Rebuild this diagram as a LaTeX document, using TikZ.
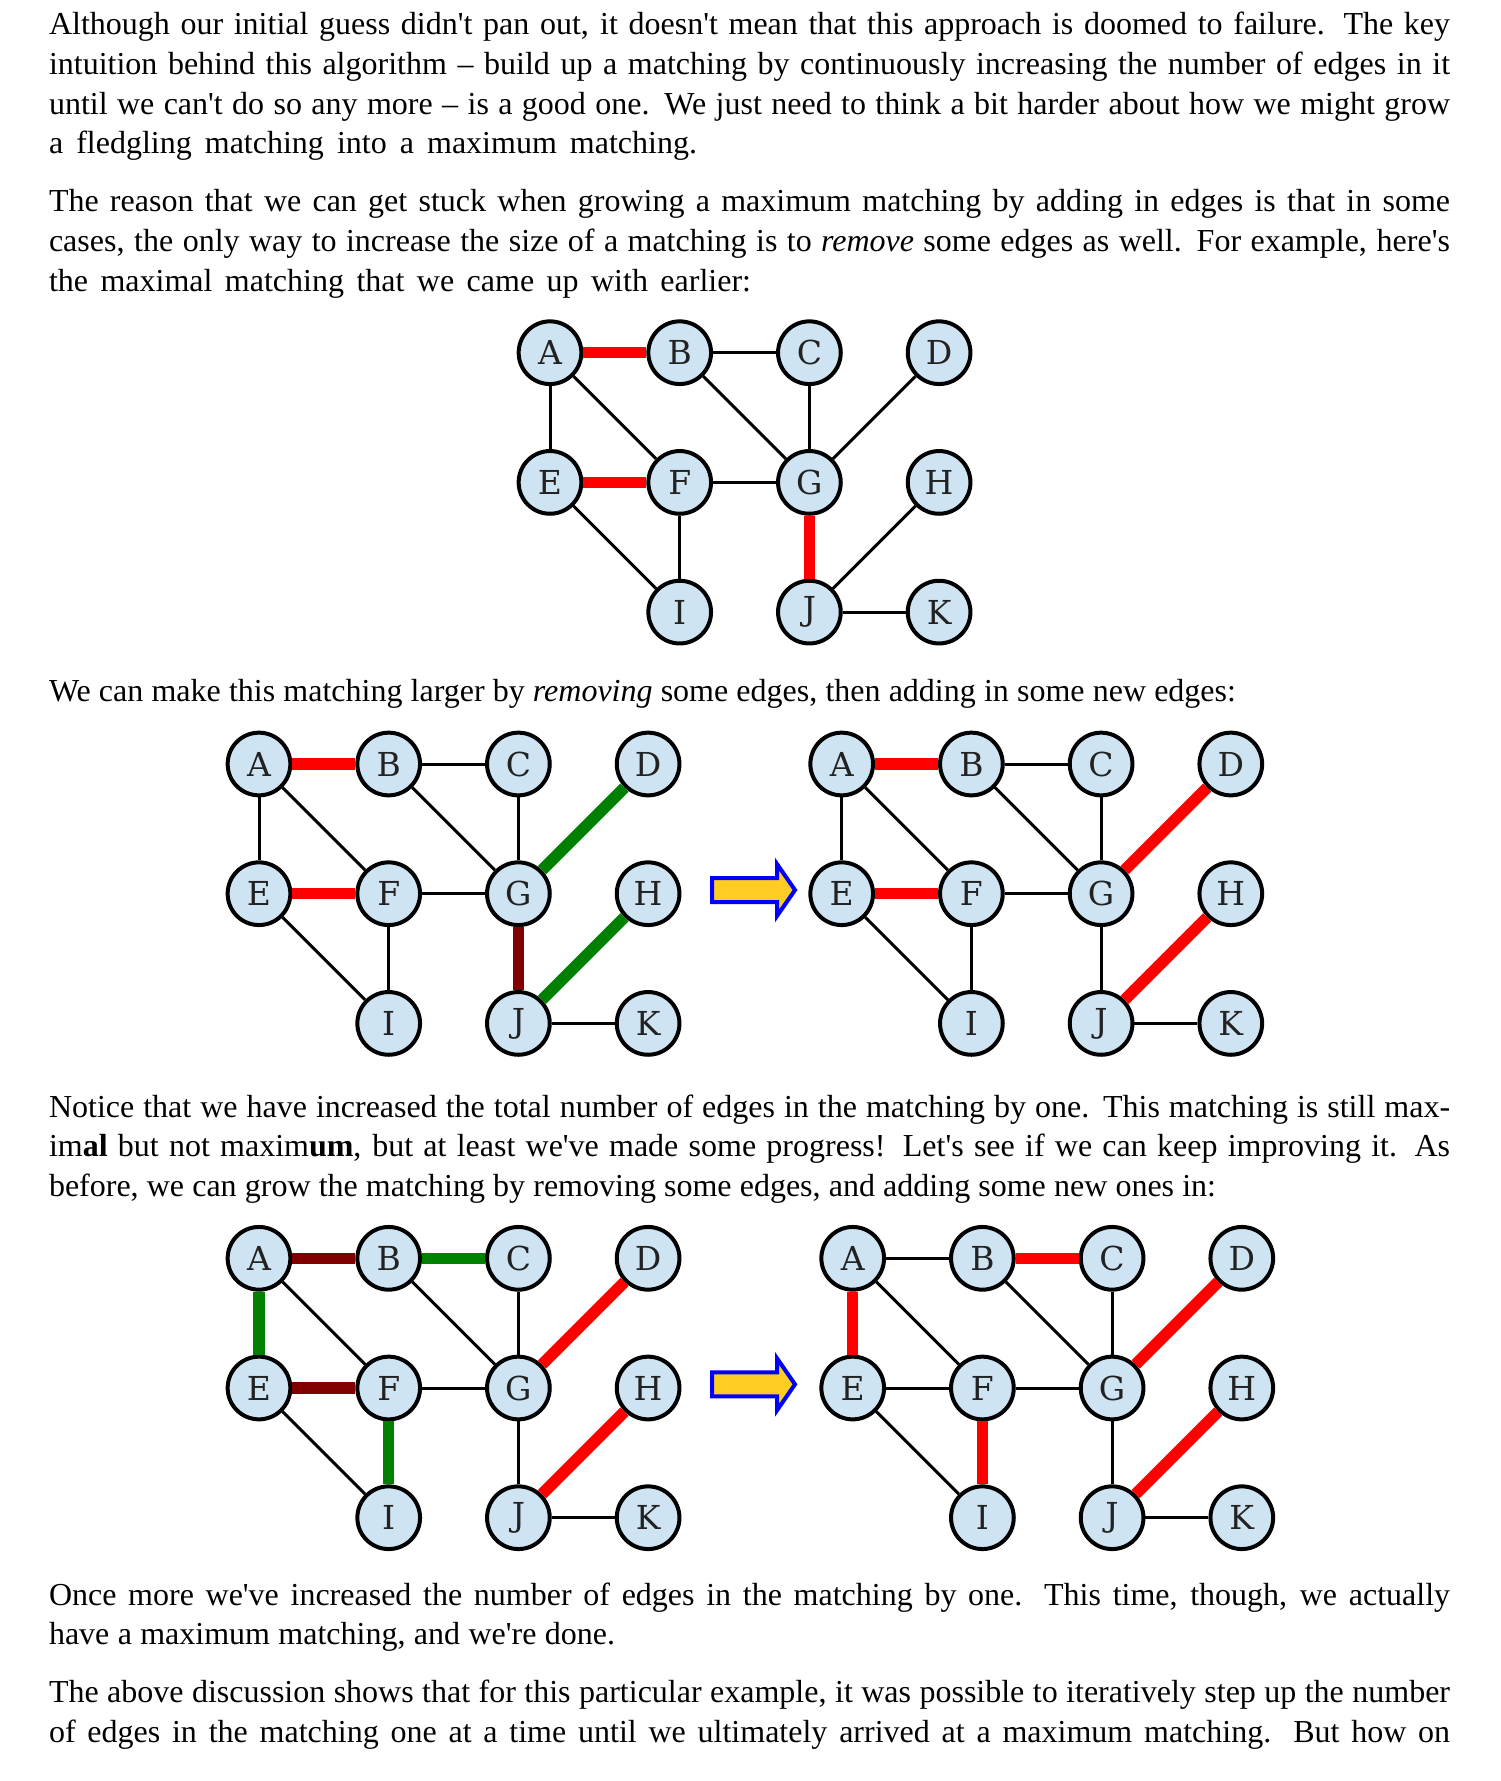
\documentclass[tikz,border=0pt]{standalone}
\usepackage{fontspec}
\setmainfont{Liberation Serif}[Ligatures=TeXOff]
\newfontfamily\labelfont{DejaVu Serif}
\definecolor{nodeblue}{RGB}{207,228,242}
\definecolor{labelgray}{RGB}{34,34,34}
\definecolor{matchred}{RGB}{255,0,0}
\definecolor{addgreen}{RGB}{0,128,0}
\definecolor{dropred}{RGB}{128,0,0}
\definecolor{arrowgold}{RGB}{255,204,34}
\definecolor{arrowblue}{RGB}{0,0,255}
\tikzset{
  vertex/.style={circle, draw=black, line width=4pt, fill=nodeblue,
    minimum size=62.7pt, inner sep=0pt, text=labelgray,
    font=\labelfont\fontsize{33}{33}\selectfont},
  plain edge/.style={draw=black, line width=3pt},
  red edge/.style={draw=matchred, line width=11.5pt},
  green edge/.style={draw=addgreen, line width=11.5pt},
  maroon edge/.style={draw=dropred, line width=11.5pt},
  eAB/.style={plain edge}, eBC/.style={plain edge}, eAE/.style={plain edge},
  eAF/.style={plain edge}, eBG/.style={plain edge}, eCG/.style={plain edge},
  eDG/.style={plain edge}, eEF/.style={plain edge}, eFG/.style={plain edge},
  eEI/.style={plain edge}, eFI/.style={plain edge}, eGJ/.style={plain edge},
  eHJ/.style={plain edge}, eJK/.style={plain edge},
  line/.style={anchor=base west, inner sep=0pt, outer sep=0pt,
    font=\fontsize{32}{40}\selectfont},
  growarrow/.style={draw=arrowblue, fill=arrowgold, line width=4pt},
}
% one graph: #1 name prefix, #2/#3 centre of vertex A
\newcommand\drawgraph[3]{%
  \node[vertex] (#1A) at (#2,#3) {A};
  \node[vertex] (#1B) at ({#2+129.7},#3) {B};
  \node[vertex] (#1C) at ({#2+259.4},#3) {C};
  \node[vertex] (#1D) at ({#2+389.1},#3) {D};
  \node[vertex] (#1E) at (#2,{#3+129.7}) {E};
  \node[vertex] (#1F) at ({#2+129.7},{#3+129.7}) {F};
  \node[vertex] (#1G) at ({#2+259.4},{#3+129.7}) {G};
  \node[vertex] (#1H) at ({#2+389.1},{#3+129.7}) {H};
  \node[vertex] (#1I) at ({#2+129.7},{#3+259.4}) {I};
  \node[vertex] (#1J) at ({#2+259.4},{#3+259.4}) {J};
  \node[vertex] (#1K) at ({#2+389.1},{#3+259.4}) {K};
  \draw[eAB] (#1A) -- (#1B);
  \draw[eBC] (#1B) -- (#1C);
  \draw[eAE] (#1A) -- (#1E);
  \draw[eAF] (#1A) -- (#1F);
  \draw[eBG] (#1B) -- (#1G);
  \draw[eCG] (#1C) -- (#1G);
  \draw[eDG] (#1D) -- (#1G);
  \draw[eEF] (#1E) -- (#1F);
  \draw[eFG] (#1F) -- (#1G);
  \draw[eEI] (#1E) -- (#1I);
  \draw[eFI] (#1F) -- (#1I);
  \draw[eGJ] (#1G) -- (#1J);
  \draw[eHJ] (#1H) -- (#1J);
  \draw[eJK] (#1J) -- (#1K);
}
% block arrow pointing right, tip at (#2,#3)
\newcommand\blockarrow[3]{%
  \coordinate (#1) at (#2,#3);
  \draw[growarrow] ([shift={(-83,-12)}]#1) -- ([shift={(-18,-12)}]#1)
    -- ([shift={(-18,-26)}]#1) -- (#1) -- ([shift={(-18,26)}]#1)
    -- ([shift={(-18,12)}]#1) -- ([shift={(-83,12)}]#1) -- cycle;
}
% a line of text set to a given width
\newcommand\just[2][1401pt]{\makebox[#1][s]{#2}}
\begin{document}
\begin{tikzpicture}[x=1pt,y=-1pt]
\useasboundingbox (0,0) rectangle (1501,1781);
\fill[white] (0,0) rectangle (1501,1781);

% paragraph 1
\node[line] (t1) at (49,34.8) {\just{Although our initial guess didn't pan out, it doesn't mean that this approach is doomed to failure.  The key}};
\node[line] (t2) at (49,74.5) {\just{intuition behind this algorithm – build up a matching by continuously increasing the number of edges in it}};
\node[line] (t3) at (49,114.2) {\just{until we can't do so any more – is a good one.  We just need to think a bit harder about how we might grow}};
\node[line] (t4) at (49,153.9) {\just[648pt]{a fledgling matching into a maximum matching.}};
% paragraph 2
\node[line] (t5) at (49,211.8) {\just{The reason that we can get stuck when growing a maximum matching by adding in edges is that in some}};
\node[line] (t6) at (49,251.5) {\just{cases, the only way to increase the size of a matching is to \emph{remove} some edges as well.  For example, here's}};
\node[line] (t7) at (49,291.2) {\just[702pt]{the maximal matching that we came up with earlier:}};

% first graph: a maximal matching
\begin{scope}[eAB/.style={red edge}, eEF/.style={red edge}, eGJ/.style={red edge}]
  \drawgraph{a}{550}{352.7}
\end{scope}

\node[line] (t8) at (49,701) {\just[1187pt]{We can make this matching larger by \emph{removing} some edges, then adding in some new edges:}};

% second row: first improvement
\begin{scope}[eAB/.style={red edge}, eEF/.style={red edge}, eGJ/.style={maroon edge},
              eDG/.style={green edge}, eHJ/.style={green edge}]
  \drawgraph{b}{259}{764}
\end{scope}
\blockarrow{arrowone}{795}{890}
\begin{scope}[eAB/.style={red edge}, eEF/.style={red edge},
              eDG/.style={red edge}, eHJ/.style={red edge}]
  \drawgraph{c}{841.7}{764}
\end{scope}

% paragraph 4
\node[line] (t9) at (49,1117) {\just{Notice that we have increased the total number of edges in the matching by one.  This matching is still max-}};
\node[line] (t10) at (49,1156.7) {\just{im\textbf{al} but not maxim\textbf{um}, but at least we've made some progress!  Let's see if we can keep improving it.  As}};
\node[line] (t11) at (49,1196.4) {\just[1167pt]{before, we can grow the matching by removing some edges, and adding some new ones in:}};

% third row: second improvement
\begin{scope}[eAB/.style={maroon edge}, eEF/.style={maroon edge},
              eBC/.style={green edge}, eAE/.style={green edge}, eFI/.style={green edge},
              eDG/.style={red edge}, eHJ/.style={red edge}]
  \drawgraph{d}{259}{1258.3}
\end{scope}
\blockarrow{arrowtwo}{795}{1384.3}
\begin{scope}[eBC/.style={red edge}, eAE/.style={red edge}, eFI/.style={red edge},
              eDG/.style={red edge}, eHJ/.style={red edge}]
  \drawgraph{e}{852.7}{1258.3}
\end{scope}

% paragraph 5
\node[line] (t12) at (49,1605) {\just{Once more we've increased the number of edges in the matching by one.  This time, though, we actually}};
\node[line] (t13) at (49,1644.7) {\just[566pt]{have a maximum matching, and we're done.}};
% paragraph 6
\node[line] (t14) at (49,1702.5) {\just{The above discussion shows that for this particular example, it was possible to iteratively step up the number}};
\node[line] (t15) at (49,1742.2) {\just{of edges in the matching one at a time until we ultimately arrived at a maximum matching.  But how on}};
\end{tikzpicture}
\end{document}
